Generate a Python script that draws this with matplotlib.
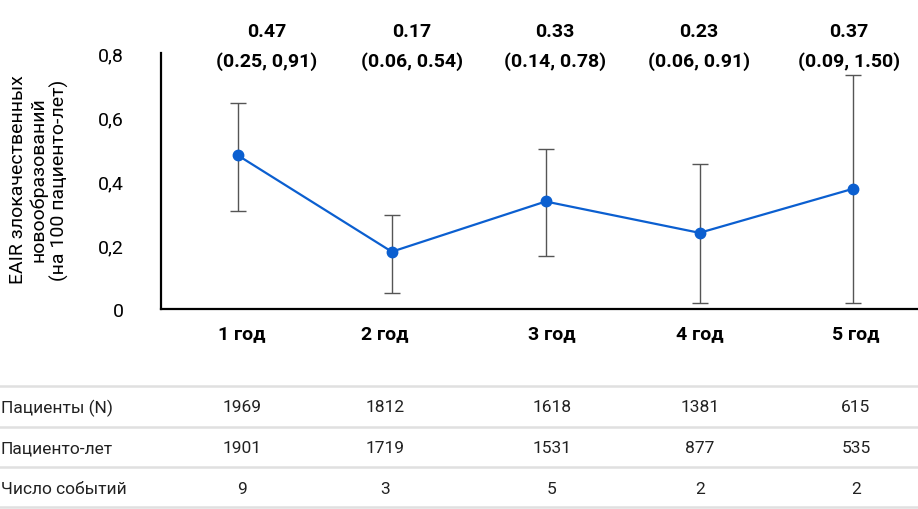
import numpy as np
import matplotlib.pyplot as plt
from matplotlib.lines import Line2D

plt.rcParams['font.family'] = ['Roboto', 'DejaVu Sans']

years = ['1 год', '2 год', '3 год', '4 год', '5 год']
eair = [0.48, 0.179, 0.336, 0.238, 0.376]
err_low = [0.307, 0.05, 0.166, 0.019, 0.019]
err_high = [0.643, 0.295, 0.499, 0.452, 0.731]
rate_text = ['0.47', '0.17', '0.33', '0.23', '0.37']
ci_text = ['(0.25, 0,91)', '(0.06, 0.54)', '(0.14, 0.78)', '(0.06, 0.91)', '(0.09, 1.50)']

row_names = ['Пациенты (N)', 'Пациенто-лет', 'Число событий']
patients = [1969, 1812, 1618, 1381, 615]
patient_years = [1901, 1719, 1531, 877, 535]
events = [9, 3, 5, 2, 2]

W, H = 918, 510
fig = plt.figure(figsize=(W / 100, H / 100), dpi=100)
ax = fig.add_axes([161 / W, (H - 310) / H, (W - 161) / W, (310 - 54) / H])

x = np.arange(len(years))
yerr = [np.array(eair) - np.array(err_low), np.array(err_high) - np.array(eair)]
ax.errorbar(x, eair, yerr=yerr, fmt='none', ecolor='#555555', elinewidth=1.0,
            capsize=6, capthick=1.0, zorder=2)
ax.plot(x, eair, color='#0b5fd0', lw=1.6, marker='o', ms=7.5, zorder=3)

ax.set_xlim(-0.5, 4.42)
ax.set_ylim(0, 0.8)
ax.set_yticks([0, 0.2, 0.4, 0.6, 0.8])
ax.set_yticklabels(['0', '0,2', '0,4', '0,6', '0,8'], fontsize=14)
ax.set_xticks([])
ax.tick_params(axis='y', length=0, pad=27)
for s in ['top', 'right']:
    ax.spines[s].set_visible(False)
ax.spines['left'].set_linewidth(1.6)
ax.spines['bottom'].set_linewidth(1.6)

fig.text(39 / W, 1 - 180 / H, 'EAIR злокачественных\nновообразований\n(на 100 пациенто-лет)',
         rotation=90, ha='center', va='center', fontsize=14, linespacing=1.15)

# annotation and column positions (pixels)
ann_x = [267, 412, 555, 699, 849]
col_x = [242, 385, 552, 700, 856]

for i in range(len(years)):
    fig.text(ann_x[i] / W, 1 - 32 / H, rate_text[i], ha='center', va='center',
             fontsize=14, fontweight='bold')
    fig.text(ann_x[i] / W, 1 - 62 / H, ci_text[i], ha='center', va='center',
             fontsize=14, fontweight='bold')
    fig.text(col_x[i] / W, 1 - 334 / H, years[i], ha='center', va='center',
             fontsize=14, fontweight='bold')

# table
table_rows = [patients, patient_years, events]
row_y = [408, 449, 490]
for y in [387, 428, 468, 508]:
    fig.add_artist(Line2D([0, 1], [1 - y / H, 1 - y / H], color='#e0e0e0', lw=1.8))
for r, vals in enumerate(table_rows):
    fig.text(1 / W, 1 - row_y[r] / H, row_names[r], ha='left', va='center',
             fontsize=12.5, color='#222222')
    for i, v in enumerate(vals):
        fig.text(col_x[i] / W, 1 - row_y[r] / H, str(v), ha='center', va='center',
                 fontsize=12.5, color='#222222')

fig.savefig('out.png', dpi=100)
